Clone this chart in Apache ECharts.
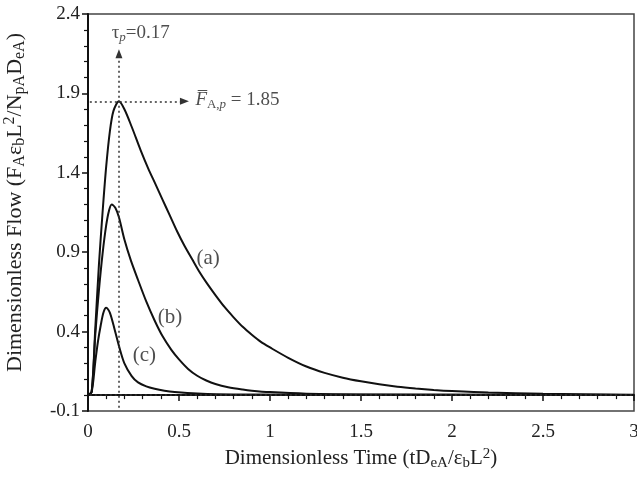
<!DOCTYPE html>
<html><head><meta charset="utf-8">
<script src="https://cdn.jsdelivr.net/npm/echarts@6/dist/echarts.min.js"></script>
<style>html,body{margin:0;padding:0;background:#fff}#c{width:637px;height:479px}</style>
</head><body><div id="c"></div>
<script>
// Curve (a)
const aX = [0,0.02,0.04,0.06,0.08,0.10,0.12,0.14,0.17,0.20,0.24,0.29,0.33,0.37,0.41,0.45,0.49,0.53,0.57,0.61,0.65,0.70,0.75,0.80,0.85,0.90,0.95,1.00,1.10,1.20,1.30,1.40,1.50,1.60,1.70,1.80,1.90,2.00,2.20,2.50,3.00];
const aY = [0,0.02,0.42,0.82,1.15,1.44,1.66,1.79,1.85,1.80,1.69,1.54,1.43,1.33,1.23,1.13,1.03,0.94,0.86,0.78,0.71,0.63,0.555,0.49,0.43,0.38,0.335,0.30,0.235,0.18,0.14,0.11,0.087,0.068,0.053,0.042,0.033,0.026,0.016,0.008,0.003];
// Curve (b)
const bX = [0,0.02,0.04,0.06,0.08,0.10,0.115,0.13,0.15,0.17,0.20,0.235,0.275,0.32,0.366,0.41,0.458,0.50,0.55,0.60,0.65,0.70,0.77,0.85,0.90,1.00,1.20,1.50,3.00];
const bY = [0,0.02,0.38,0.66,0.89,1.07,1.16,1.20,1.18,1.12,0.98,0.85,0.725,0.59,0.47,0.37,0.285,0.225,0.165,0.122,0.092,0.07,0.05,0.035,0.028,0.019,0.009,0.004,0.001];
// Curve (c)
const cX = [0,0.02,0.04,0.055,0.07,0.085,0.10,0.12,0.147,0.17,0.20,0.24,0.275,0.32,0.366,0.42,0.476,0.60,0.80,3.00];
const cY = [0,0.02,0.21,0.34,0.44,0.52,0.55,0.52,0.41,0.31,0.20,0.12,0.08,0.055,0.04,0.028,0.02,0.01,0.004,0];
// Axis ticks
const xTicks = [0,0.5,1,1.5,2,2.5,3];
const yTicks = [-0.1,0.4,0.9,1.4,1.9,2.4];
// Annotations
const tauP = 0.17;
const peakF = 1.85;
const curveNames = ['(a)','(b)','(c)'];
const curveLabelX = [0.66,0.45,0.31];
const curveLabelY = [0.86,0.49,0.25];

const zip = (xs, ys) => xs.map((x, i) => [x, ys[i]]);
const serif = 'Liberation Serif';
const mk = (size, sub) => ({
  n: {fontFamily: serif, fontSize: size, color: '#222'},
  sub: {fontFamily: serif, fontSize: sub, color: '#222', padding: [Math.round(size*0.45),0,0,0]},
  sup: {fontFamily: serif, fontSize: sub, color: '#222', padding: [0,0,Math.round(size*0.45),0]},
  isub: {fontFamily: serif, fontSize: sub, fontStyle: 'italic', color: '#222', padding: [Math.round(size*0.45),0,0,0]},
  it: {fontFamily: serif, fontSize: size, fontStyle: 'italic', color: '#222'}
});
const lineSeries = (d) => ({
  type: 'line', data: d, showSymbol: false, smooth: 0.3,
  lineStyle: {color: '#111', width: 2}, silent: true, z: 3
});
const chart = echarts.init(document.getElementById('c'));
const annLabels = curveNames.map((n, i) => ({value: [curveLabelX[i], curveLabelY[i]], label: {formatter: '{n|' + n + '}'}}));
annLabels.push({value: [0.13, 2.28], label: {formatter: '{m|τ}{ms|p}{m|=' + tauP + '}', align: 'left'}});
annLabels.push({value: [0.59, 1.86], label: {formatter: '{mi|F\u0305}{mu|A,}{ms|p}{m| = ' + peakF + '}', align: 'left'}});
const annRich = Object.assign(mk(21, 15), {
  m: {fontFamily: serif, fontSize: 19, color: '#222'},
  mi: {fontFamily: serif, fontSize: 19, fontStyle: 'italic', color: '#222'},
  mu: {fontFamily: serif, fontSize: 13, color: '#222', padding: [9,0,0,0]},
  ms: {fontFamily: serif, fontSize: 13, fontStyle: 'italic', color: '#222', padding: [9,0,0,0]}
});

chart.setOption({
  animation: false,
  grid: {left: 88, right: 3, top: 14, bottom: 68, show: true, borderColor: '#444', borderWidth: 1.5, outerBoundsMode: 'none', containLabel: false},
  xAxis: {
    type: 'value', min: 0, max: 3, interval: 0.5,
    axisLine: {lineStyle: {color: '#111', width: 2}},
    axisTick: {length: 6, lineStyle: {color: '#111', width: 1.5}},
    minorTick: {show: true, splitNumber: 5, length: 4, lineStyle: {color: '#111', width: 1.2}},
    splitLine: {show: false},
    axisLabel: {fontFamily: serif, fontSize: 19, color: '#222', margin: 12, formatter: v => String(v)},
    name: '{n|Dimensionless Time (tD}{sub|eA}{n|/ε}{sub|b}{n|L}{sup|2}{n|)}',
    nameLocation: 'middle', nameGap: 34,
    nameTextStyle: {rich: mk(21, 15)}
  },
  yAxis: {
    type: 'value', min: -0.1, max: 2.4, interval: 0.5,
    axisLine: {lineStyle: {color: '#111', width: 2}},
    axisTick: {length: 6, lineStyle: {color: '#111', width: 1.5}},
    minorTick: {show: true, splitNumber: 5, length: 4, lineStyle: {color: '#111', width: 1.2}},
    splitLine: {show: false},
    axisLabel: {fontFamily: serif, fontSize: 19, color: '#222', margin: 8, formatter: v => v.toFixed(1)},
    name: '{n|Dimensionless Flow (F}{sub|A}{n|ε}{sub|b}{n|L}{sup|2}{n|/N}{sub|pA}{n|D}{sub|eA}{n|)}',
    nameLocation: 'middle', nameGap: 60, nameRotate: 90,
    nameTextStyle: {rich: mk(22, 16), padding: [0, 0, 0, 20]}
  },
  series: [
    Object.assign(lineSeries(zip(aX, aY)), {
      markLine: {
        silent: true, symbol: ['none', 'triangle'], symbolSize: [7, 9],
        lineStyle: {type: [2, 3], color: '#333', width: 1.5},
        label: {show: false},
        data: [
          [{coord: [tauP, -0.08]}, {coord: [tauP, 2.15]}],
          [{coord: [0.01, peakF]}, {coord: [0.53, peakF]}],
          [{coord: [0.01, 0], symbol: 'none'}, {coord: [3, 0], symbol: 'none'}]
        ]
      }
    }),
    lineSeries(zip(bX, bY)),
    lineSeries(zip(cX, cY)),
    {
      type: 'scatter', symbolSize: 0, silent: true, z: 5,
      data: annLabels,
      label: {show: true, position: 'inside', rich: annRich}
    }
  ]
});
</script></body></html>
